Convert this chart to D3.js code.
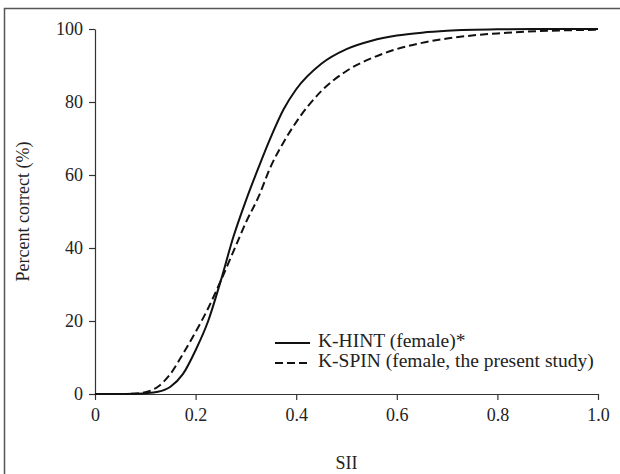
<!DOCTYPE html>
<html>
<head>
<meta charset="utf-8">
<script src="https://cdn.jsdelivr.net/npm/d3@7"></script>
<style>
  body { margin: 0; background: #fff; }
  svg text { font-family: "Liberation Serif", "Times New Roman", serif; fill: #222; }
</style>
</head>
<body>
<script>
var width = 620, height = 474;

// SII values where the curves were read
var sii = [0, 0.05, 0.075, 0.1, 0.125, 0.15, 0.175, 0.2, 0.225, 0.25, 0.275, 0.3, 0.325, 0.35, 0.375, 0.4, 0.45, 0.5, 0.55, 0.6, 0.65, 0.7, 0.8, 0.9, 1.0];
// percent correct
var hint = [0, 0, 0.05, 0.2, 0.6, 2, 5.5, 12, 20, 31, 43, 53, 62, 70.5, 78, 83.5, 90.5, 94.5, 96.8, 98.2, 99, 99.5, 99.9, 100, 100];
var spin = [0, 0, 0.1, 0.5, 2, 5.5, 11, 17, 23.5, 31, 39, 47, 54, 62.5, 69, 74.5, 83, 88.5, 92, 94.5, 96.2, 97.4, 98.8, 99.5, 99.8];

var xTicks = [0, 0.2, 0.4, 0.6, 0.8, 1.0];
var yTicks = [0, 20, 40, 60, 80, 100];
var legendLabels = ["K-HINT (female)*", "K-SPIN (female, the present study)"];

var svg = d3.select("body").append("svg")
    .attr("width", width)
    .attr("height", height);

// outer frame (runs off the right and bottom edges)
svg.append("rect")
    .attr("x", 4.5).attr("y", 8.5)
    .attr("width", 700).attr("height", 600)
    .attr("fill", "none")
    .attr("stroke", "#555")
    .attr("stroke-width", 1.5);

var x = d3.scaleLinear().domain([0, 1]).range([95, 598]);
var y = d3.scaleLinear().domain([0, 100]).range([394, 29]);

var xAxis = svg.append("g")
    .attr("transform", "translate(0," + y(0) + ")")
    .call(d3.axisBottom(x).tickValues(xTicks)
        .tickFormat(function (d) { return d === 0 ? "0" : d3.format(".1f")(d); })
        .tickSize(6).tickSizeOuter(0).tickPadding(8));

var yAxis = svg.append("g")
    .attr("transform", "translate(" + x(0) + ",0)")
    .call(d3.axisLeft(y).tickValues(yTicks).tickSize(6).tickSizeOuter(0).tickPadding(6));

svg.selectAll(".domain, .tick line").attr("stroke", "#333").attr("stroke-width", 1.2);
svg.selectAll(".tick text").style("font-size", "18px").attr("fill", "#222");

svg.append("text")
    .attr("x", x(0.5)).attr("y", 465)
    .attr("text-anchor", "middle")
    .attr("dominant-baseline", "middle")
    .style("font-size", "18px")
    .text("SII");

svg.append("text")
    .attr("transform", "translate(25," + y(50) + ") rotate(-90)")
    .attr("text-anchor", "middle")
    .attr("dominant-baseline", "middle")
    .style("font-size", "18px")
    .text("Percent correct (%)");

var line = d3.line()
    .x(function (d) { return x(d[0]); })
    .y(function (d) { return y(d[1]); })
    .curve(d3.curveMonotoneX);

var series = [
  { name: legendLabels[0], values: sii.map(function (s, i) { return [s, hint[i]]; }), dash: null },
  { name: legendLabels[1], values: sii.map(function (s, i) { return [s, spin[i]]; }), dash: "8,4" }
];

svg.selectAll(".curve")
    .data(series)
    .enter().append("path")
    .attr("class", "curve")
    .attr("d", function (d) { return line(d.values); })
    .attr("fill", "none")
    .attr("stroke", "#111")
    .attr("stroke-width", 2)
    .attr("stroke-dasharray", function (d) { return d.dash; });

var legend = svg.append("g").attr("transform", "translate(275,343)");
var item = legend.selectAll("g")
    .data(series)
    .enter().append("g")
    .attr("transform", function (d, i) { return "translate(0," + i * 20 + ")"; });

item.append("line")
    .attr("x1", 0).attr("x2", 35)
    .attr("stroke", "#111")
    .attr("stroke-width", 2)
    .attr("stroke-dasharray", function (d) { return d.dash; });

item.append("text")
    .attr("x", 43)
    .attr("dominant-baseline", "middle")
    .style("font-size", "19.5px")
    .text(function (d) { return d.name; });
</script>
</body>
</html>
